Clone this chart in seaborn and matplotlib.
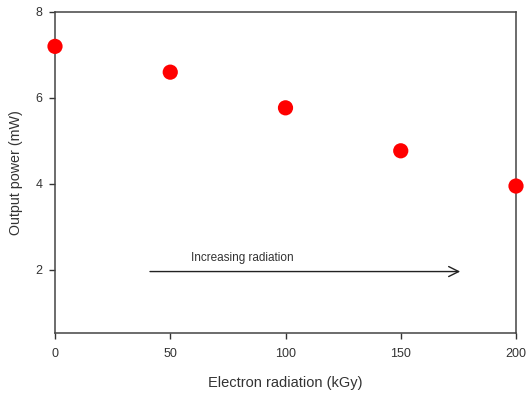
import matplotlib
matplotlib.use("Agg")
import matplotlib.pyplot as plt
import seaborn as sns
import pandas as pd

radiation = [0, 50, 100, 150, 200]
power = [7.2, 6.6, 5.77, 4.77, 3.95]
x_ticks = [0, 50, 100, 150, 200]
y_ticks = [2, 4, 6, 8]

sns.set_style("ticks")
plt.rcParams['font.family'] = ['Liberation Sans', 'DejaVu Sans']

df = pd.DataFrame({"radiation": radiation, "power": power})

fig = plt.figure(figsize=(5.26, 3.93), dpi=100)
ax = fig.add_axes([55/526, 1 - 333/393, (516-55)/526, (333-12)/393])
sns.scatterplot(data=df, x="radiation", y="power", ax=ax, color="#ff0000",
                s=120, edgecolor="none", clip_on=False, zorder=3)
ax.set_xlim(0, 200)
ax.set_ylim(0.53, 8)
ax.set_xticks(x_ticks)
ax.set_yticks(y_ticks)
ax.tick_params(labelsize=9, length=4, width=1, colors="#333333", labelcolor="#333333")
ax.tick_params(axis="x", pad=7)
ax.tick_params(axis="y", pad=5)
for sp in ax.spines.values():
    sp.set_color("#444444")
    sp.set_linewidth(1.1)
ax.set_xlabel("Electron radiation (kGy)", fontsize=10.5, color="#333333", labelpad=11)
ax.set_ylabel("Output power (mW)", fontsize=10.3, color="#333333", labelpad=9)

ax.annotate("", xy=(177, 1.96), xytext=(40, 1.96),
            arrowprops=dict(arrowstyle="->", color="#222222", lw=1, mutation_scale=18))
ax.text(59, 2.2, "Increasing radiation", fontsize=8.5, color="#333333")

fig.savefig("out.png", dpi=100)
